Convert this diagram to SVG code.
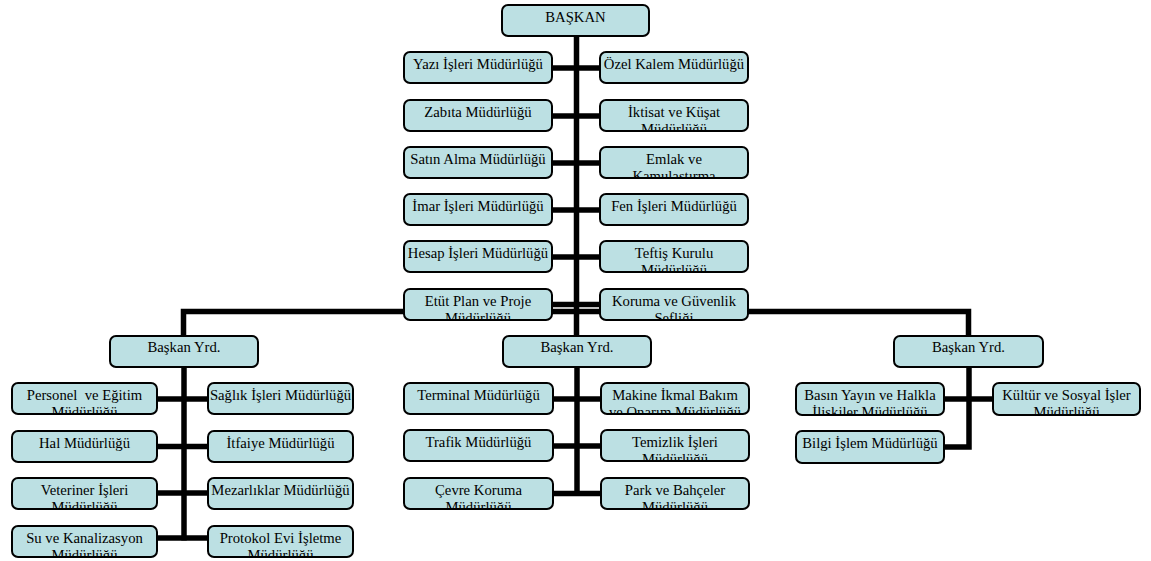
<svg xmlns="http://www.w3.org/2000/svg" width="1151" height="561" viewBox="0 0 1151 561">
  <style>
    .box { fill: #bce0e3; stroke: #000; stroke-width: 2; }
    .lbl { font-family: "Liberation Serif", "Times New Roman", serif; font-size: 14.7px; fill: #000; text-anchor: middle; }
    .wire { fill: none; stroke: #000; stroke-width: 5.5; stroke-linecap: butt; stroke-linejoin: miter; }
  </style>
  <rect width="1151" height="561" fill="#fff"/>

  <!-- connectors -->
  <g id="connectors">
    <!-- main trunk -->
    <path class="wire" d="M576.5,36 V336" stroke-width="6"/>
    <!-- top rows -->
    <path class="wire" d="M552,68 H600"/>
    <path class="wire" d="M552,116 H600"/>
    <path class="wire" d="M552,163 H600"/>
    <path class="wire" d="M552,210 H600"/>
    <path class="wire" d="M552,257 H600"/>
    <path class="wire" d="M552,304.5 H600"/>
    <!-- branch to deputies -->
    <path class="wire" d="M183.5,336 V311.5 H968.5 V336"/>
    <!-- left deputy -->
    <path class="wire" d="M184,367 V540.5" stroke-width="6"/>
    <path class="wire" d="M157,399 H208"/>
    <path class="wire" d="M157,446.5 H208"/>
    <path class="wire" d="M157,493 H208"/>
    <path class="wire" d="M157,538 H208"/>
    <!-- middle deputy -->
    <path class="wire" d="M577,367 V496" stroke-width="6"/>
    <path class="wire" d="M553,399 H601"/>
    <path class="wire" d="M553,446 H601"/>
    <path class="wire" d="M553,493.5 H601"/>
    <!-- right deputy -->
    <path class="wire" d="M944,399 H993"/>
    <path class="wire" d="M969,367 V447 H944" stroke-width="6"/>
  </g>

  <!-- top level -->
  <g id="baskan">
    <rect class="box" x="502" y="5" width="147" height="31" rx="6"/>
    <svg x="502" y="5" width="147" height="30"><text class="lbl" x="73.5" y="17">BAŞKAN</text></svg>
  </g>

  <!-- directorates attached to the mayor -->
  <g id="yazi-isleri">
    <rect class="box" x="404" y="52" width="148" height="31" rx="6"/>
    <svg x="404" y="52" width="148" height="30"><text class="lbl" x="74" y="17">Yazı İşleri Müdürlüğü</text></svg>
  </g>
  <g id="ozel-kalem">
    <rect class="box" x="600" y="52" width="148" height="31" rx="6"/>
    <svg x="600" y="52" width="148" height="30"><text class="lbl" x="74" y="17">Özel Kalem Müdürlüğü</text></svg>
  </g>
  <g id="zabita">
    <rect class="box" x="404" y="100" width="148" height="31" rx="6"/>
    <svg x="404" y="100" width="148" height="30"><text class="lbl" x="74" y="17">Zabıta Müdürlüğü</text></svg>
  </g>
  <g id="iktisat">
    <rect class="box" x="600" y="100" width="148" height="31" rx="6"/>
    <svg x="600" y="100" width="148" height="30"><text class="lbl" x="74" y="17">İktisat ve Küşat<tspan x="74" dy="16.5">Müdürlüğü</tspan></text></svg>
  </g>
  <g id="satin-alma">
    <rect class="box" x="404" y="147" width="148" height="31" rx="6"/>
    <svg x="404" y="147" width="148" height="30"><text class="lbl" x="74" y="17">Satın Alma Müdürlüğü</text></svg>
  </g>
  <g id="emlak">
    <rect class="box" x="600" y="147" width="148" height="31" rx="6"/>
    <svg x="600" y="147" width="148" height="30"><text class="lbl" x="74" y="17">Emlak ve<tspan x="74" dy="16.5">Kamulaştırma</tspan></text></svg>
  </g>
  <g id="imar">
    <rect class="box" x="404" y="194" width="148" height="31" rx="6"/>
    <svg x="404" y="194" width="148" height="30"><text class="lbl" x="74" y="17">İmar İşleri Müdürlüğü</text></svg>
  </g>
  <g id="fen-isleri">
    <rect class="box" x="600" y="194" width="148" height="31" rx="6"/>
    <svg x="600" y="194" width="148" height="30"><text class="lbl" x="74" y="17">Fen İşleri Müdürlüğü</text></svg>
  </g>
  <g id="hesap">
    <rect class="box" x="404" y="241" width="148" height="31" rx="6"/>
    <svg x="404" y="241" width="148" height="30"><text class="lbl" x="74" y="17">Hesap İşleri Müdürlüğü</text></svg>
  </g>
  <g id="teftis">
    <rect class="box" x="600" y="241" width="148" height="31" rx="6"/>
    <svg x="600" y="241" width="148" height="30"><text class="lbl" x="74" y="17">Teftiş Kurulu<tspan x="74" dy="16.5">Müdürlüğü</tspan></text></svg>
  </g>
  <g id="etut-plan">
    <rect class="box" x="404" y="289" width="148" height="31" rx="6"/>
    <svg x="404" y="289" width="148" height="30"><text class="lbl" x="74" y="17">Etüt Plan ve Proje<tspan x="74" dy="16.5">Müdürlüğü</tspan></text></svg>
  </g>
  <g id="koruma">
    <rect class="box" x="600" y="289" width="148" height="31" rx="6"/>
    <svg x="600" y="289" width="148" height="30"><text class="lbl" x="74" y="17">Koruma ve Güvenlik<tspan x="74" dy="16.5">Şefliği</tspan></text></svg>
  </g>

  <!-- deputy mayors -->
  <g id="yrd-1">
    <rect class="box" x="110" y="336" width="148" height="31" rx="6"/>
    <svg x="110" y="336" width="148" height="30"><text class="lbl" x="74" y="15.5">Başkan Yrd.</text></svg>
  </g>
  <g id="yrd-2">
    <rect class="box" x="503" y="336" width="148" height="31" rx="6"/>
    <svg x="503" y="336" width="148" height="30"><text class="lbl" x="74" y="15.5">Başkan Yrd.</text></svg>
  </g>
  <g id="yrd-3">
    <rect class="box" x="894" y="336" width="149" height="31" rx="6"/>
    <svg x="894" y="336" width="149" height="30"><text class="lbl" x="74.5" y="15.5">Başkan Yrd.</text></svg>
  </g>

  <!-- first deputy's directorates -->
  <g id="personel">
    <rect class="box" x="12" y="383" width="145" height="31" rx="6"/>
    <svg x="12" y="383" width="145" height="30"><text class="lbl" x="72.5" y="17" style="white-space:pre">Personel  ve Eğitim<tspan x="72.5" dy="16.5">Müdürlüğü</tspan></text></svg>
  </g>
  <g id="saglik">
    <rect class="box" x="208" y="383" width="145" height="31" rx="6"/>
    <svg x="208" y="383" width="145" height="30"><text class="lbl" x="72.5" y="17">Sağlık İşleri Müdürlüğü</text></svg>
  </g>
  <g id="hal">
    <rect class="box" x="12" y="431" width="145" height="31" rx="6"/>
    <svg x="12" y="431" width="145" height="30"><text class="lbl" x="72.5" y="17">Hal Müdürlüğü</text></svg>
  </g>
  <g id="itfaiye">
    <rect class="box" x="208" y="431" width="145" height="31" rx="6"/>
    <svg x="208" y="431" width="145" height="30"><text class="lbl" x="72.5" y="17">İtfaiye Müdürlüğü</text></svg>
  </g>
  <g id="veteriner">
    <rect class="box" x="12" y="478" width="145" height="31" rx="6"/>
    <svg x="12" y="478" width="145" height="30"><text class="lbl" x="72.5" y="17">Veteriner İşleri<tspan x="72.5" dy="16.5">Müdürlüğü</tspan></text></svg>
  </g>
  <g id="mezarliklar">
    <rect class="box" x="208" y="478" width="145" height="31" rx="6"/>
    <svg x="208" y="478" width="145" height="30"><text class="lbl" x="72.5" y="17">Mezarlıklar Müdürlüğü</text></svg>
  </g>
  <g id="su-kanal">
    <rect class="box" x="12" y="526" width="145" height="31" rx="6"/>
    <svg x="12" y="526" width="145" height="30"><text class="lbl" x="72.5" y="17">Su ve Kanalizasyon<tspan x="72.5" dy="16.5">Müdürlüğü</tspan></text></svg>
  </g>
  <g id="protokol">
    <rect class="box" x="208" y="526" width="145" height="31" rx="6"/>
    <svg x="208" y="526" width="145" height="30"><text class="lbl" x="72.5" y="17">Protokol Evi İşletme<tspan x="72.5" dy="16.5">Müdürlüğü</tspan></text></svg>
  </g>

  <!-- second deputy's directorates -->
  <g id="terminal">
    <rect class="box" x="404" y="383" width="149" height="31" rx="6"/>
    <svg x="404" y="383" width="149" height="30"><text class="lbl" x="74.5" y="17">Terminal Müdürlüğü</text></svg>
  </g>
  <g id="makine">
    <rect class="box" x="601" y="383" width="148" height="31" rx="6"/>
    <svg x="601" y="383" width="148" height="30"><text class="lbl" x="74" y="17">Makine İkmal Bakım<tspan x="74" dy="16.5">ve Onarım Müdürlüğü</tspan></text></svg>
  </g>
  <g id="trafik">
    <rect class="box" x="404" y="430" width="149" height="31" rx="6"/>
    <svg x="404" y="430" width="149" height="30"><text class="lbl" x="74.5" y="17">Trafik Müdürlüğü</text></svg>
  </g>
  <g id="temizlik">
    <rect class="box" x="601" y="430" width="148" height="31" rx="6"/>
    <svg x="601" y="430" width="148" height="30"><text class="lbl" x="74" y="17">Temizlik İşleri<tspan x="74" dy="16.5">Müdürlüğü</tspan></text></svg>
  </g>
  <g id="cevre">
    <rect class="box" x="404" y="478" width="149" height="31" rx="6"/>
    <svg x="404" y="478" width="149" height="30"><text class="lbl" x="74.5" y="17">Çevre Koruma<tspan x="74.5" dy="16.5">Müdürlüğü</tspan></text></svg>
  </g>
  <g id="park">
    <rect class="box" x="601" y="478" width="148" height="31" rx="6"/>
    <svg x="601" y="478" width="148" height="30"><text class="lbl" x="74" y="17">Park ve Bahçeler<tspan x="74" dy="16.5">Müdürlüğü</tspan></text></svg>
  </g>

  <!-- third deputy's directorates -->
  <g id="basin">
    <rect class="box" x="796" y="383" width="148" height="32" rx="6"/>
    <svg x="796" y="383" width="148" height="31"><text class="lbl" x="74" y="17">Basın Yayın ve Halkla<tspan x="74" dy="16.5">İlişkiler Müdürlüğü</tspan></text></svg>
  </g>
  <g id="kultur">
    <rect class="box" x="993" y="383" width="147" height="32" rx="6"/>
    <svg x="993" y="383" width="147" height="31"><text class="lbl" x="73.5" y="17">Kültür ve Sosyal İşler<tspan x="73.5" dy="16.5">Müdürlüğü</tspan></text></svg>
  </g>
  <g id="bilgi">
    <rect class="box" x="796" y="431" width="148" height="32" rx="6"/>
    <svg x="796" y="431" width="148" height="31"><text class="lbl" x="74" y="17">Bilgi İşlem Müdürlüğü</text></svg>
  </g>
</svg>
